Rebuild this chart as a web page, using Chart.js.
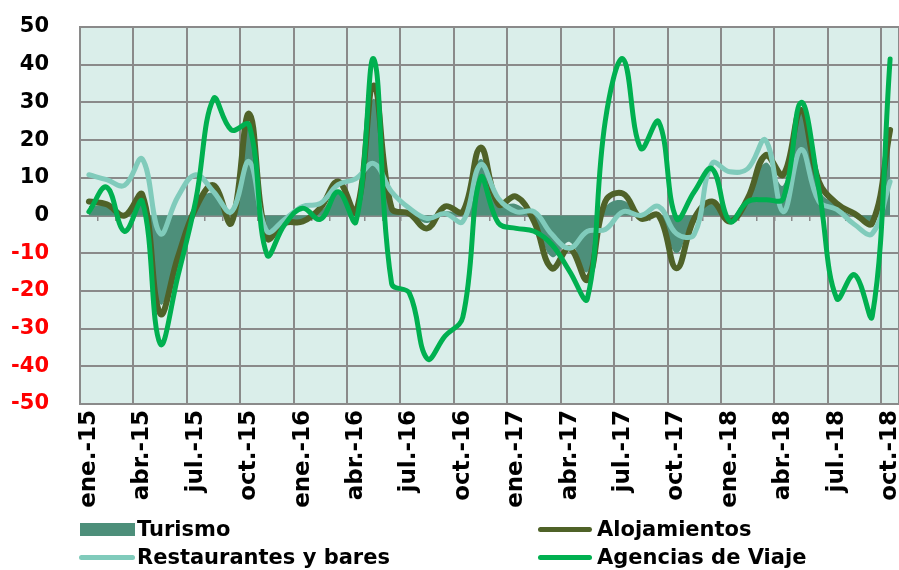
<!DOCTYPE html>
<html>
<head>
<meta charset="utf-8">
<script src="https://cdn.jsdelivr.net/npm/chart.js@4/dist/chart.umd.min.js"></script>
<style>
    body { margin: 0; background: #fff; font-family: "DejaVu Sans", Verdana, sans-serif; }
    #wrap { position: relative; width: 899px; height: 570px; }
    canvas { position: absolute; left: 0; top: 0; }
    .leg { position: absolute; font-weight: bold; font-size: 21px; color: #000; line-height: 24px; white-space: nowrap; }
    .leg .mk { position: absolute; }
</style>
</head>
<body>
<div id="wrap">
    <canvas id="chart" width="899" height="570"></canvas>
    <div class="leg" style="left:80px; top:517px;"><span class="mk" style="left:0; top:6px; width:55px; height:13px; background:#4d8f7a;"></span><span style="padding-left:57px;">Turismo</span></div>
    <div class="leg" style="left:538px; top:517px;"><span class="mk" style="left:0; top:10px; width:54px; height:5px; border-radius:3px; background:#4f6228;"></span><span style="padding-left:59px;">Alojamientos</span></div>
    <div class="leg" style="left:79px; top:545px;"><span class="mk" style="left:0; top:10px; width:56px; height:5px; border-radius:3px; background:#80cbbb;"></span><span style="padding-left:58px;">Restaurantes y bares</span></div>
    <div class="leg" style="left:538px; top:545px;"><span class="mk" style="left:0; top:10px; width:54px; height:5px; border-radius:3px; background:#00b050;"></span><span style="padding-left:59px;">Agencias de Viaje</span></div>
</div>
<script>
// monthly categories
const months = [
    'ene.-15', 'feb.-15', 'mar.-15', 'abr.-15', 'may.-15', 'jun.-15', 'jul.-15', 'ago.-15', 'sep.-15', 'oct.-15', 'nov.-15', 'dic.-15',
    'ene.-16', 'feb.-16', 'mar.-16', 'abr.-16', 'may.-16', 'jun.-16', 'jul.-16', 'ago.-16', 'sep.-16', 'oct.-16', 'nov.-16', 'dic.-16',
    'ene.-17', 'feb.-17', 'mar.-17', 'abr.-17', 'may.-17', 'jun.-17', 'jul.-17', 'ago.-17', 'sep.-17', 'oct.-17', 'nov.-17', 'dic.-17',
    'ene.-18', 'feb.-18', 'mar.-18', 'abr.-18', 'may.-18', 'jun.-18', 'jul.-18', 'ago.-18', 'sep.-18', 'oct.-18'
];

const turismo = [
    2.5, 2.5, 0.5, 3, -23.5, -10, 3, 6, 0.5, 24, -5, -2,
    -1.5, 1, 6, 2, 31, 1.5, 0.5, -2, 1, 1, 15, 3,
    3, -1, -11, -7, -15, 2, 4, 0, 0.5, -10, 0, 3,
    -1, 4, 14, 8, 27, 7, 2.5, -0.5, -2, 21
];

const alojamientos = [
    3.7, 3, 0, 5.5, -26, -11, 2, 8, -2, 27, -6, -2,
    -1.6, 2, 9, 1, 34.5, 2, 0.5, -3.4, 2.4, 1, 18, 3,
    5, -1.6, -14, -8.7, -17, 3.7, 5.8, -0.8, 0, -14, -0.8, 3.7,
    -1.6, 4.5, 16, 10.8, 28, 9, 3.2, 0.5, -2, 22.7
];

const restaurantes = [
    10.8, 9.5, 8, 15, -4.8, 5, 10.8, 6.3, 1, 14.3, -4.2, -1,
    2.4, 3.2, 8.2, 9.8, 13.8, 6.3, 1.9, -0.8, 0.5, -1.6, 13.5, 4.5,
    1, 1, -5, -8.7, -4.2, -3.7, 1, 0, 2.4, -4.8, -5, 13.8,
    11.6, 12.4, 20, 1, 17.5, 3.7, 1.6, -2.4, -4.8, 9
];

const agencias = [
    1, 7.5, -4.2, 3.7, -34, -16, 4, 31, 22.7, 24, -10.4, -2.4,
    1.9, -1, 6.3, -1.6, 41.5, -18, -20.6, -38, -32, -27, 10, -2,
    -3.4, -4.2, -7.7, -14.8, -22, 25, 41.5, 17.8, 24.9, -0.8, 6.3, 12.4,
    -1.6, 3.7, 4.2, 4.5, 30, 7, -22, -15.7, -26.7, 41.5
];

const GRID = '#8a8a8a';

// plot area fill
const plotBg = {
    id: 'plotBg',
    beforeDraw(chart) {
        const { ctx, chartArea: a } = chart;
        ctx.save();
        ctx.fillStyle = '#daeeea';
        ctx.fillRect(a.left, a.top, a.right - a.left, a.bottom - a.top);
        ctx.restore();
    }
};

// keep the plot edges where the reference has them
const noPad = s => {
    s.paddingLeft = 0;
    s.paddingRight = 0;
    s.paddingTop = 0;
    s.paddingBottom = 0;
};

const ctx = document.getElementById('chart').getContext('2d');
new Chart(ctx, {
    type: 'line',
    data: {
        labels: months,
        datasets: [
            {
                label: 'Agencias de Viaje',
                data: agencias,
                borderColor: '#00b050',
                borderWidth: 5,
                order: 0
            },
            {
                label: 'Restaurantes y bares',
                data: restaurantes,
                borderColor: '#80cbbb',
                borderWidth: 5,
                order: 1
            },
            {
                label: 'Alojamientos',
                data: alojamientos,
                borderColor: '#4f6228',
                borderWidth: 6,
                order: 2
            },
            {
                label: 'Turismo',
                data: turismo,
                borderColor: '#4d8f7a',
                borderWidth: 0,
                backgroundColor: '#4d8f7a',
                fill: 'origin',
                order: 3
            }
        ]
    },
    options: {
        responsive: false,
        animation: false,
        devicePixelRatio: 1,
        layout: { padding: { top: 27, right: 0, left: 0, bottom: 0 } },
        elements: {
            line: { tension: 0.4, borderCapStyle: 'round', borderJoinStyle: 'round' },
            point: { radius: 0 }
        },
        plugins: {
            legend: { display: false },
            tooltip: { enabled: false }
        },
        scales: {
            x: {
                offset: true,
                grid: {
                    offset: true,
                    drawTicks: false,
                    lineWidth: 2,
                    color: c => (c.type !== 'tick' || c.index % 3 === 0) ? GRID : 'rgba(0,0,0,0)'
                },
                border: { color: GRID, width: 2 },
                ticks: {
                    autoSkip: false,
                    minRotation: 90,
                    maxRotation: 90,
                    padding: 6,
                    color: '#000',
                    font: { family: 'DejaVu Sans', weight: 'bold', size: 23 },
                    callback: (v, i) => i % 3 === 0 ? months[i] : ''
                },
                afterFit: s => { s.height = 166; noPad(s); }
            },
            x2: {
                type: 'category',
                position: { y: 0 },
                offset: true,
                grid: { offset: true, drawOnChartArea: false, tickLength: 5, color: GRID, lineWidth: 1.5 },
                border: { display: false },
                ticks: { display: false },
                afterFit: noPad
            },
            y: {
                min: -50,
                max: 50,
                grid: { color: GRID, lineWidth: 2, drawTicks: false },
                border: { color: GRID, width: 2 },
                ticks: {
                    stepSize: 10,
                    padding: 31,
                    color: c => c.tick.value < 0 ? '#ff0000' : '#000',
                    font: { family: 'DejaVu Sans', weight: 'bold', size: 21 }
                },
                afterFit: s => { s.width = 80; noPad(s); }
            }
        }
    },
    plugins: [plotBg]
});
</script>
</body>
</html>
